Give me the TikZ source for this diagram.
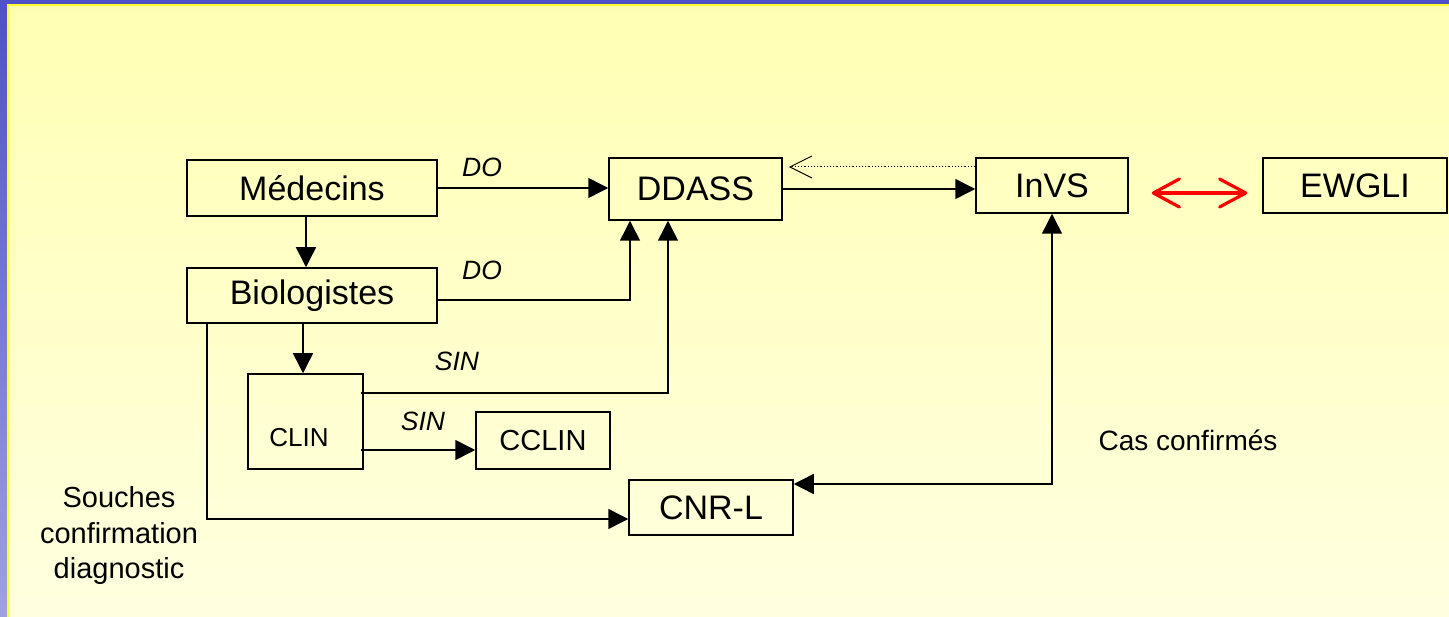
\documentclass[tikz,border=0pt]{standalone}
\usepackage{fontspec}
\setmainfont{Liberation Sans}
\usetikzlibrary{arrows.meta,calc}
\definecolor{bluetop}{RGB}{80,80,200}
\definecolor{bluebot}{RGB}{160,160,225}
\definecolor{yline}{RGB}{255,255,40}
\definecolor{bgtop}{RGB}{255,255,180}
\definecolor{bgbot}{RGB}{255,255,224}
\newcommand{\fs}[1]{\fontsize{#1}{#1}\selectfont}
\tikzset{
  box/.style={draw=black,line width=1.5pt,rectangle,inner sep=0pt,font=\fs{34}},
  arr/.style={line width=1.5pt,-{Triangle[length=20pt,width=20pt]}},
  darr/.style={line width=1.5pt,{Triangle[length=20pt,width=20pt]}-{Triangle[length=20pt,width=20pt]}},
  lbl/.style={font=\fs{26.5}\itshape,inner sep=0pt},
  txt/.style={font=\fs{28},inner sep=0pt}
}
\begin{document}
\begin{tikzpicture}[x=1pt,y=-1pt]
\useasboundingbox (0,0) rectangle (1449,617);
\shade[top color=bluetop,bottom color=bluebot] (0,0) rectangle (1449,617);
\fill[yline] (7,4) rectangle (1449,617);
\shade[top color=bgtop,bottom color=bgbot] (9,7) rectangle (1449,617);
% nodes
\node[box,minimum width=250pt,minimum height=56pt] (med) at (312,188) {Médecins};
\node[box,minimum width=250pt,minimum height=55pt] (bio) at (312,295.5) {Biologistes};
\node[box,minimum width=173pt,minimum height=62pt] (ddass) at (695.5,189) {DDASS};
\node[box,minimum width=152pt,minimum height=55pt] (invs) at (1052,185.5) {InVS};
\node[box,minimum width=184pt,minimum height=55pt] (ewgli) at (1355,185.5) {EWGLI};
\node[box,minimum width=115pt,minimum height=95pt] (clin) at (305.5,421.5) {};
\node[font=\fs{26},inner sep=0pt] (clintxt) at (299,438) {CLIN};
\node[box,minimum width=134pt,minimum height=57pt,font=\fs{29}] (cclin) at (543,440.5) {CCLIN};
\node[box,minimum width=164pt,minimum height=55pt] (cnrl) at (711,507.5) {CNR-L};
% labels
\node[lbl] (do1) at (482,167) {DO};
\node[lbl] (do2) at (482,270) {DO};
\node[lbl] (sin1) at (457,361) {SIN};
\node[lbl] (sin2) at (423,421) {SIN};
\node[txt] (cas) at (1188,440) {Cas confirmés};
\node[inner sep=0pt,align=center,font=\fontsize{29}{35.5}\selectfont] (souches) at (119,536) {Souches\\confirmation\\diagnostic};
% connectors
\draw[arr] (med.east) -- (med.east -| ddass.west);
\draw[arr] ([xshift=-6pt]med.south) -- ([xshift=-6pt]bio.north);
\draw[arr] ([yshift=-4.5pt]bio.east) -| ([xshift=-65.5pt]ddass.south);
\draw[arr] ([xshift=-9pt]bio.south) -- ([xshift=-2.5pt]clin.north);
\draw[arr] ([xshift=-3pt,yshift=28.5pt]clin.east) -| ([xshift=-27.5pt]ddass.south);
\draw[arr] ([xshift=-3pt,yshift=-28.5pt]clin.east) -- ([yshift=-9.5pt]cclin.west);
\draw[arr] ([xshift=-105pt]bio.south) |- ([yshift=-11.5pt]cnrl.west);
\draw[darr] (invs.south) |- ([yshift=23.5pt]cnrl.east);
\draw[arr] (ddass.east) -- (ddass.east -| invs.west);
\coordinate (dotstart) at ([yshift=18.5pt]invs.west);
\coordinate (dotend) at ([xshift=6pt]ddass.east);
\draw[line width=1pt,dash pattern=on 1.2pt off 2pt,-{Straight Barb[length=22pt,width=22pt,line width=1pt]}] (dotstart) -- (dotstart -| dotend);
\draw[red,line width=3.2pt,line cap=round,line join=round,{Straight Barb[length=26pt,width=28pt,round]}-{Straight Barb[length=26pt,width=28pt,round]}] ([xshift=23pt,yshift=-7.5pt]invs.east) -- ([xshift=-15pt,yshift=-7.5pt]ewgli.west);
\end{tikzpicture}
\end{document}
